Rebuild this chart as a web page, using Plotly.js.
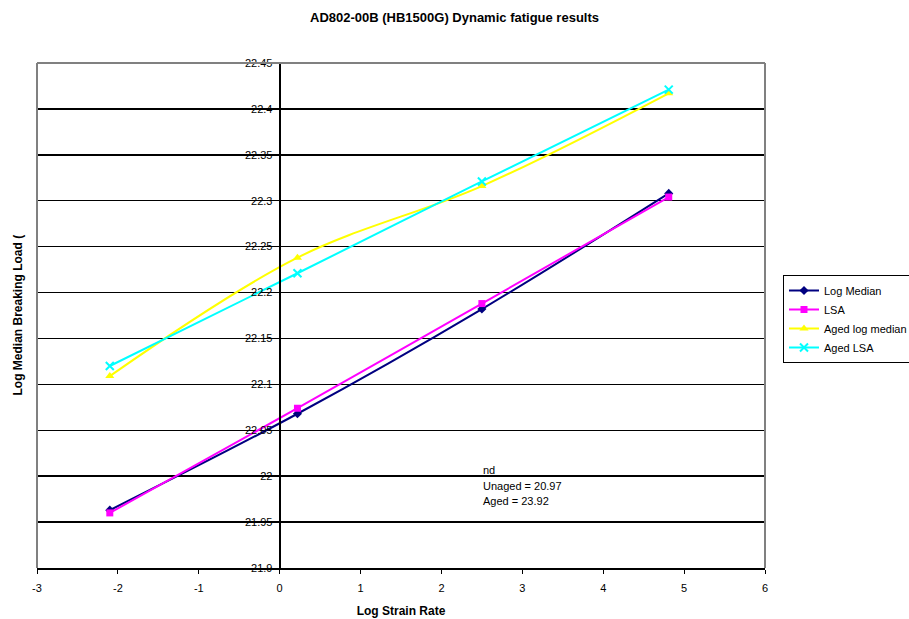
<!DOCTYPE html>
<html>
<head>
<meta charset="utf-8">
<script src="https://cdn.plot.ly/plotly-3.0.1.min.js"></script>
<style>html,body{margin:0;padding:0;background:#fff;}#chart{width:909px;height:619px;}</style>
</head>
<body>
<div id="chart"></div>
<script>
// ---- data ----
const logStrainRate = [-2.1, 0.22, 2.5, 4.81];
const logMedian     = [21.963, 22.068, 22.182, 22.308];
const lsa           = [21.960, 22.074, 22.188, 22.304];
const agedLogMedian = [22.109, 22.238, 22.316, 22.417];
const agedLsa       = [22.120, 22.221, 22.321, 22.421];
const seriesNames   = ["Log Median", "LSA", "Aged log median", "Aged LSA"];

const xTickVals = [-3, -2, -1, 0, 1, 2, 3, 4, 5, 6];
const xTickText = ["-3", "-2", "-1", "0", "1", "2", "3", "4", "5", "6"];
const yTickVals = [21.9, 21.95, 22, 22.05, 22.1, 22.15, 22.2, 22.25, 22.3, 22.35, 22.4, 22.45];
const yTickText = ["21.9", "21.95", "22", "22.05", "22.1", "22.15", "22.2", "22.25", "22.3", "22.35", "22.4", "22.45"];
const noteLines = ["nd", "Unaged = 20.97", "Aged = 23.92"];

const FONT = "Arial, 'Liberation Sans', sans-serif";
const colors = ["#000080", "#FF00FF", "#FFFF00", "#00FFFF"];
const symbols = ["diamond", "square", "triangle-up", "x-thin"];
const ys = [logMedian, lsa, agedLogMedian, agedLsa];

const traces = ys.map((y, i) => ({
  x: logStrainRate,
  y: y,
  name: seriesNames[i],
  type: "scatter",
  mode: "lines+markers",
  line: {color: colors[i], width: 2, shape: "spline", smoothing: 1},
  marker: symbols[i] === "x-thin"
    ? {symbol: "x-thin", size: 8, color: colors[i], line: {color: colors[i], width: 2}}
    : {symbol: symbols[i], size: symbols[i] === "triangle-up" ? 8 : 7, color: colors[i]}
}));

const L = 37, R = 765, T = 63, B = 568, W = 909, H = 619;
const pw = R - L, ph = B - T;
const xRange = [-3, 6];
const yAxisPos = (0 - xRange[0]) / (xRange[1] - xRange[0]);

const annotations = noteLines.map((t, i) => ({
  text: t, xref: "paper", yref: "paper",
  x: (481 - L) / pw, y: (B - (470 + i * 15.5)) / ph,
  xanchor: "left", yanchor: "middle", showarrow: false,
  font: {family: FONT, size: 11, color: "#000"}
}));
annotations.push({
  text: "<b>Log Median Breaking Load (</b>", xref: "paper", yref: "paper",
  x: (17 - L) / pw, y: 0.5, xanchor: "center", yanchor: "middle",
  textangle: -90, showarrow: false,
  font: {family: FONT, size: 12, color: "#000"}
});

const layout = {
  width: W, height: H,
  margin: {l: L, r: W - R, t: T, b: H - B, autoexpand: false},
  paper_bgcolor: "#fff", plot_bgcolor: "#fff",
  font: {family: FONT, size: 11, color: "#000"},
  title: {text: "<b>AD802-00B (HB1500G) Dynamic fatigue results</b>",
          x: 0.5, xref: "container", y: 1 - 17 / H, yref: "container", yanchor: "middle",
          font: {family: FONT, size: 13, color: "#000"}},
  xaxis: {
    range: xRange, tickvals: xTickVals, ticktext: xTickText,
    showgrid: false, zeroline: false, showline: true, linecolor: "#000", linewidth: 1.5,
    ticks: "outside", ticklen: 4, tickcolor: "#000", tickwidth: 1,
    ticklabelstandoff: 5,
    tickfont: {family: FONT, size: 11, color: "#000"},
    title: {text: "<b>Log Strain Rate</b>", font: {family: FONT, size: 12, color: "#000"}, standoff: 14}
  },
  yaxis: {
    range: [21.9, 22.45], tickvals: yTickVals, ticktext: yTickText,
    anchor: "free", position: yAxisPos,
    showgrid: true, gridcolor: "#000", gridwidth: 1.5,
    zeroline: false, showline: true, linecolor: "#000", linewidth: 2,
    ticks: "outside", ticklen: 4, tickcolor: "#000", tickwidth: 1,
    tickfont: {family: FONT, size: 11, color: "#000"}
  },
  shapes: [
    {type: "line", xref: "paper", yref: "paper", x0: 0, x1: 0, y0: 0, y1: 1, line: {color: "#808080", width: 2}},
    {type: "line", xref: "paper", yref: "paper", x0: 0, x1: 1, y0: 1, y1: 1, line: {color: "#808080", width: 2}},
    {type: "line", xref: "paper", yref: "paper", x0: 1, x1: 1, y0: 0, y1: 1, line: {color: "#808080", width: 2}}
  ],
  showlegend: true,
  legend: {
    x: (783 - L) / pw, y: (B - 275) / ph, xanchor: "left", yanchor: "top",
    bgcolor: "#fff", bordercolor: "#000", borderwidth: 1,
    font: {family: FONT, size: 11, color: "#000"},
    tracegroupgap: 0, itemwidth: 30
  },
  annotations: annotations
};

Plotly.newPlot("chart", traces, layout, {displayModeBar: false, staticPlot: true});
</script>
</body>
</html>
